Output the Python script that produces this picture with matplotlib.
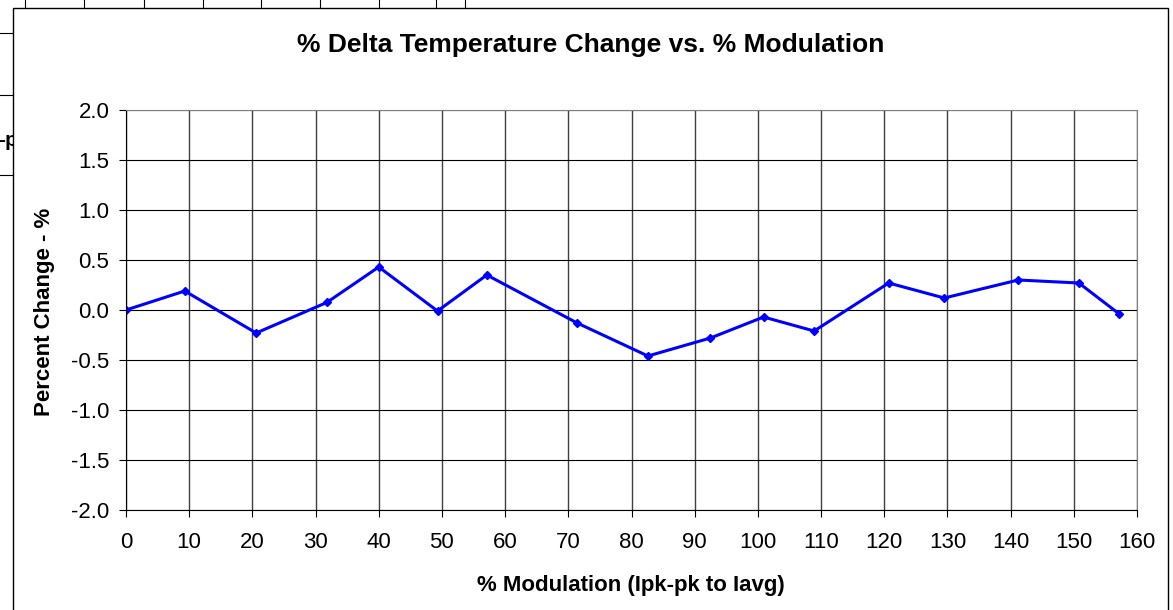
import matplotlib
matplotlib.use("Agg")
import matplotlib.pyplot as plt
from matplotlib.patches import Rectangle
from matplotlib.lines import Line2D

plt.rcParams['font.family'] = ['Liberation Sans', 'DejaVu Sans']

# % modulation vs percent change in delta temperature
modulation = [0, 9.3, 20.6, 31.8, 40.0, 49.3, 57.1, 71.4, 82.6, 92.5,
              100.9, 108.9, 120.7, 129.5, 141.2, 150.8, 157.2]
pct_change = [0.0, 0.19, -0.23, 0.076, 0.43, -0.01, 0.35, -0.13, -0.46, -0.28,
              -0.07, -0.21, 0.27, 0.12, 0.30, 0.27, -0.04]

x_ticks = list(range(0, 161, 10))
y_ticks = [-2.0, -1.5, -1.0, -0.5, 0.0, 0.5, 1.0, 1.5, 2.0]

W, H = 1173, 610
fig = plt.figure(figsize=(W / 100, H / 100), dpi=100)

# spreadsheet cell lines peeking out behind the chart
for cx in [25, 84, 144, 203, 261, 320, 379, 436, 465]:
    fig.add_artist(Line2D([cx / W, cx / W], [1, 1 - 8 / H], color='black', lw=0.8, zorder=-30))
for cy in [33, 95, 175]:
    fig.add_artist(Line2D([0, 13 / W], [1 - cy / H, 1 - cy / H], color='black', lw=0.8, zorder=-30))
fig.text(-0.002, 1 - 141 / H, '-p', fontsize=15, fontweight='bold', ha='left', va='center', zorder=-30)

# chart area border
fig.add_artist(Rectangle((13 / W, -0.1), (1168 - 13) / W, 1.1 - 8 / H,
                         transform=fig.transFigure, fill=True, facecolor='white',
                         edgecolor='black', lw=1.0, zorder=-10))

ax = fig.add_axes([126 / W, 1 - 510 / H, (1137 - 126) / W, 400 / H])
ax.patch.set_alpha(0)
ax.plot(modulation, pct_change, color='#0000FF', lw=2.2, marker='D', markersize=4.5,
        markeredgecolor='#0000FF', markerfacecolor='#0000FF')

ax.set_xlim(0, 160)
ax.set_ylim(-2.0, 2.0)
ax.set_xticks(x_ticks)
ax.set_yticks(y_ticks)
ax.set_yticklabels(['%.1f' % v for v in y_ticks])
ax.yaxis.grid(True, color='black', lw=0.8)
ax.xaxis.grid(True, color='#404040', lw=1.0)
ax.set_axisbelow(True)
ax.tick_params(axis='both', direction='out', length=5, width=0.8, labelsize=16)
ax.tick_params(axis='y', pad=7)
ax.tick_params(axis='x', pad=11)
for side in ['top', 'right']:
    ax.spines[side].set_color('#808080')
for side in ['left', 'bottom']:
    ax.spines[side].set_color('black')

# titles placed like the spreadsheet chart (centred on the chart area)
fig.text(591 / W, 1 - 45 / H, '% Delta Temperature Change vs. % Modulation',
         fontsize=19, fontweight='bold', ha='center', va='center')
fig.text(631 / W, 1 - 586 / H, '% Modulation (Ipk-pk to Iavg)',
         fontsize=16, fontweight='bold', ha='center', va='center')
fig.text(45 / W, 1 - 312 / H, 'Percent Change - %', rotation=90,
         fontsize=16, fontweight='bold', ha='center', va='center')

fig.savefig('out.png', dpi=100)
